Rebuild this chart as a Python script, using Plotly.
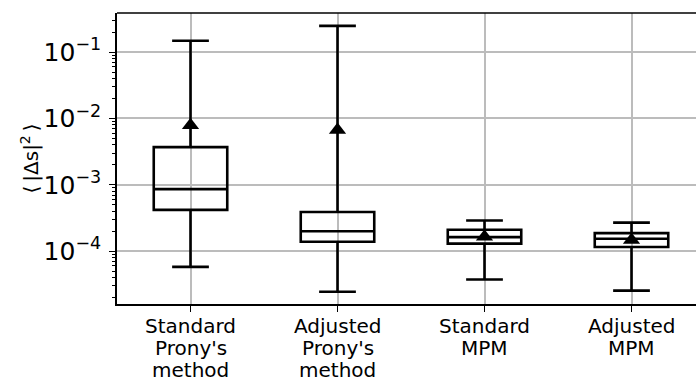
import plotly.graph_objects as go

# Summary statistics of <|Δs|^2> for each estimation method
method_lines = [
    ["Standard", "Prony's", "method"],
    ["Adjusted", "Prony's", "method"],
    ["Standard", "MPM"],
    ["Adjusted", "MPM"],
]
positions = [1, 2, 3, 4]
whisker_low = [5.8e-5, 2.45e-5, 3.75e-5, 2.55e-5]
q1 = [4.2e-4, 1.39e-4, 1.30e-4, 1.16e-4]
median = [8.6e-4, 2.0e-4, 1.63e-4, 1.54e-4]
q3 = [3.7e-3, 3.9e-4, 2.1e-4, 1.87e-4]
whisker_high = [0.148, 0.248, 2.9e-4, 2.7e-4]
mean = [7.9e-3, 6.7e-3, 1.65e-4, 1.48e-4]

FONT = "DejaVu Sans"
FS = 20
W, H = 696, 383
ML, MT, MB = 117, 13, 79
CAT_PX = 147.0          # pixels between neighbouring categories
LINE_PX = 22.0          # line spacing of the category labels

fig = go.Figure()
fig.add_trace(go.Box(
    x=positions, q1=q1, median=median, q3=q3,
    lowerfence=whisker_low, upperfence=whisker_high,
    width=0.5, whiskerwidth=0.5, boxpoints=False,
    line=dict(color="black", width=2.6),
    fillcolor="rgba(0,0,0,0)", showlegend=False, hoverinfo="skip",
))
fig.add_trace(go.Scatter(
    x=positions, y=mean, mode="markers",
    marker=dict(symbol="triangle-up", size=15, color="black"),
    showlegend=False, hoverinfo="skip",
))

plot_w = W - ML

annotations = [dict(
    text="⟨\u2009|Δs|<sup>2</sup>\u2009⟩", textangle=-90,
    xref="paper", yref="paper", x=-(ML - 29) / plot_w, y=0.5,
    xanchor="center", yanchor="middle", showarrow=False,
    font=dict(family=FONT, size=20, color="black"),
)]
# category labels, one line each so the line spacing can be set
for pos, lines in zip(positions, method_lines):
    for i, line in enumerate(lines):
        annotations.append(dict(
            text=line, xref="x", yref="paper", x=pos, y=0,
            xanchor="center", yanchor="middle",
            yshift=-(22 + i * LINE_PX), showarrow=False,
            font=dict(family=FONT, size=FS, color="black"),
        ))

# top frame line (the right side of the frame lies beyond the figure)
shapes = [dict(type="line", xref="paper", yref="paper", x0=0, x1=1, y0=1, y1=1,
               line=dict(color="black", width=1.6))]

fig.update_layout(
    width=W, height=H,
    margin=dict(l=ML, r=0, t=MT, b=MB, pad=0),
    paper_bgcolor="white", plot_bgcolor="white",
    font=dict(family=FONT, size=FS, color="black"),
    xaxis=dict(
        range=[0.5, 0.5 + plot_w / CAT_PX],
        tickvals=positions, showticklabels=False,
        ticks="outside", ticklen=6, tickwidth=1.3, tickcolor="black",
        showgrid=True, gridcolor="#bcbcbc", gridwidth=1.5,
        showline=True, linecolor="black", linewidth=1.6, mirror=False,
        zeroline=False,
    ),
    yaxis=dict(
        type="log", range=[-4.795, -0.412],
        dtick=1, exponentformat="power",
        ticks="outside", ticklen=6, tickwidth=1.3, tickcolor="black",
        minor=dict(ticks="outside", ticklen=3.5, tickwidth=1, tickcolor="black",
                   dtick="D1", showgrid=False),
        showgrid=True, gridcolor="#bcbcbc", gridwidth=1.5,
        showline=True, linecolor="black", linewidth=1.6, mirror=False,
        zeroline=False, tickfont=dict(size=FS), ticklabelstandoff=4,
    ),
    shapes=shapes,
    annotations=annotations,
)

fig.write_html("out.html")
